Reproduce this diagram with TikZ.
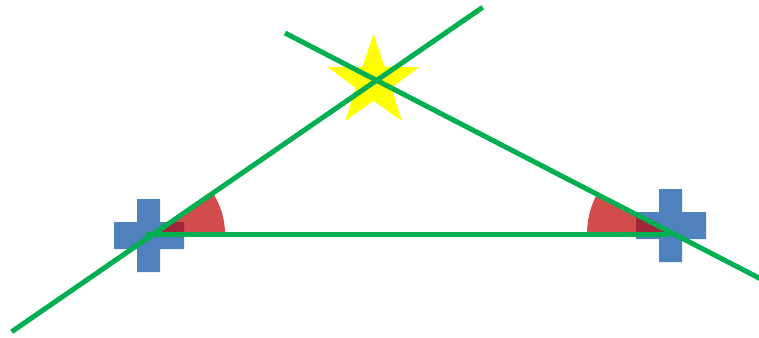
\documentclass[tikz,border=0pt]{standalone}
\usetikzlibrary{shapes.geometric}
\definecolor{lgreen}{RGB}{0,176,80}
\definecolor{pblue}{RGB}{79,129,189}
\definecolor{sred}{RGB}{192,0,0}
\definecolor{syellow}{RGB}{255,255,0}
\tikzset{
  gline/.style={draw=lgreen,line width=5pt},
  plusfill/.style={fill=pblue},
  anglefill/.style={fill=sred,fill opacity=0.7},
  starshape/.style={star,star points=5,star point ratio=2.55,fill=syellow,draw=none,minimum size=96pt,inner sep=0pt}
}
\begin{document}
\begin{tikzpicture}[x=1pt,y=-1pt]
\useasboundingbox (0,0) rectangle (759,337);
% coordinates
\coordinate (A) at (150,234);
\coordinate (B) at (672,234);
\coordinate (L1s) at (11.7,331.7);
\coordinate (L1e) at (482.7,7.3);
\coordinate (L2s) at (285,33);
\coordinate (L2e) at (765,281.1);
\coordinate (Hs) at (146,234);
\coordinate (He) at (670,234);
% star
\node[starshape] (star) at (373.5,82) {};
% plus signs
\path[plusfill] (137,199) rectangle (160,272) (114,222) rectangle (184,249);
\path[plusfill] (659,189) rectangle (682,262) (636,212) rectangle (706,239);
% angle sectors
\path[anglefill] (A) -- ++(0:75) arc[start angle=0,end angle=-34.4,radius=75] -- cycle;
\path[anglefill] (B) -- ++(180:85) arc[start angle=180,end angle=207.3,radius=85] -- cycle;
% lines
\draw[gline] (L1s) -- (L1e);
\draw[gline] (L2s) -- (L2e);
\draw[gline] (Hs) -- (He);
\end{tikzpicture}
\end{document}
